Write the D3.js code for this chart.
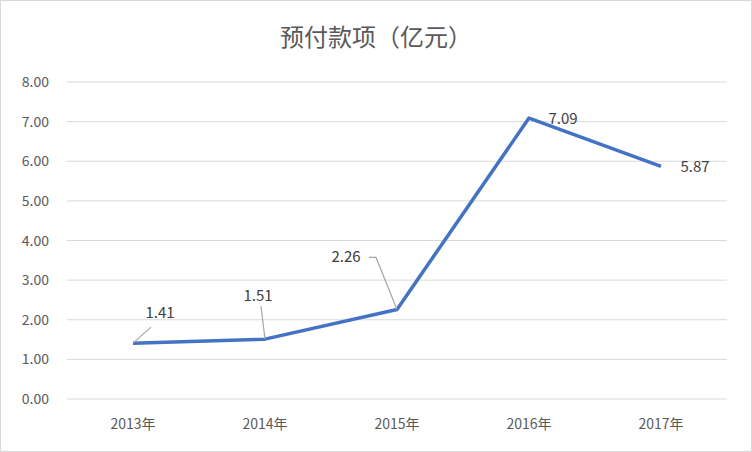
<!DOCTYPE html>
<html>
<head>
<meta charset="utf-8">
<script src="https://d3js.org/d3.v7.min.js"></script>
<style>body{margin:0;background:#fff}</style>
</head>
<body>
<script>
// Chart data
var years = ["2013年", "2014年", "2015年", "2016年", "2017年"];
var values = [1.41, 1.51, 2.26, 7.09, 5.87];
var ticks = [0, 1, 2, 3, 4, 5, 6, 7, 8];
// label offsets relative to point (dx, dy)
var labelPos = [[27, -30], [-7, -43], [-51, -52], [34, 1], [34, 1]];

var w = 752, h = 452;
var svg = d3.select("body").append("svg").attr("width", w).attr("height", h)
  .style("font-family", "'Noto Sans CJK SC', 'Noto Sans', sans-serif");

svg.append("rect").attr("x", 0.5).attr("y", 0.5).attr("width", w - 1).attr("height", h - 1)
  .attr("fill", "#fff").attr("stroke", "#d9d9d9");

svg.append("text").attr("x", w / 2).attr("y", 46).attr("text-anchor", "middle")
  .attr("font-size", 24).attr("fill", "#595959").text("预付款项（亿元）");

var x = d3.scaleBand().domain(years).range([67, 727]);
var y = d3.scaleLinear().domain([0, 8]).range([399, 82]);

// gridlines
svg.selectAll("line.grid").data(ticks).enter().append("line")
  .attr("x1", 67).attr("x2", 727)
  .attr("y1", d => y(d)).attr("y2", d => y(d))
  .attr("stroke", "#d9d9d9").attr("stroke-width", 1);

// y labels
svg.selectAll("text.yl").data(ticks).enter().append("text")
  .attr("x", 49).attr("y", d => y(d) + 5).attr("text-anchor", "end")
  .attr("font-size", 14).attr("fill", "#595959").text(d => d.toFixed(2));

// x labels
svg.selectAll("text.xl").data(years).enter().append("text")
  .attr("x", d => x(d) + x.bandwidth() / 2).attr("y", 429).attr("text-anchor", "middle")
  .attr("font-size", 14).attr("fill", "#595959").text(d => d);

var pts = years.map((d, i) => [x(d) + x.bandwidth() / 2, y(values[i])]);

svg.append("path").attr("d", d3.line()(pts)).attr("fill", "none")
  .attr("stroke", "#4472c4").attr("stroke-width", 3.5).attr("stroke-linejoin", "round");

// leader lines
var leaders = [
  [[pts[0][0], pts[0][1]], [pts[0][0] + 18, pts[0][1] - 16]],
  [[pts[1][0], pts[1][1]], [pts[1][0] - 4, pts[1][1] - 33]],
  [[pts[2][0], pts[2][1]], [pts[2][0] - 21, pts[2][1] - 52], [pts[2][0] - 28, pts[2][1] - 52]]
];
leaders.forEach(l => svg.append("path").attr("d", d3.line()(l))
  .attr("fill", "none").attr("stroke", "#a6a6a6").attr("stroke-width", 1.2));

svg.selectAll("text.dl").data(values).enter().append("text")
  .attr("x", (d, i) => pts[i][0] + labelPos[i][0])
  .attr("y", (d, i) => pts[i][1] + labelPos[i][1] + 5)
  .attr("text-anchor", "middle").attr("font-size", 15).attr("fill", "#404040")
  .text(d => d.toFixed(2));
</script>
</body>
</html>
